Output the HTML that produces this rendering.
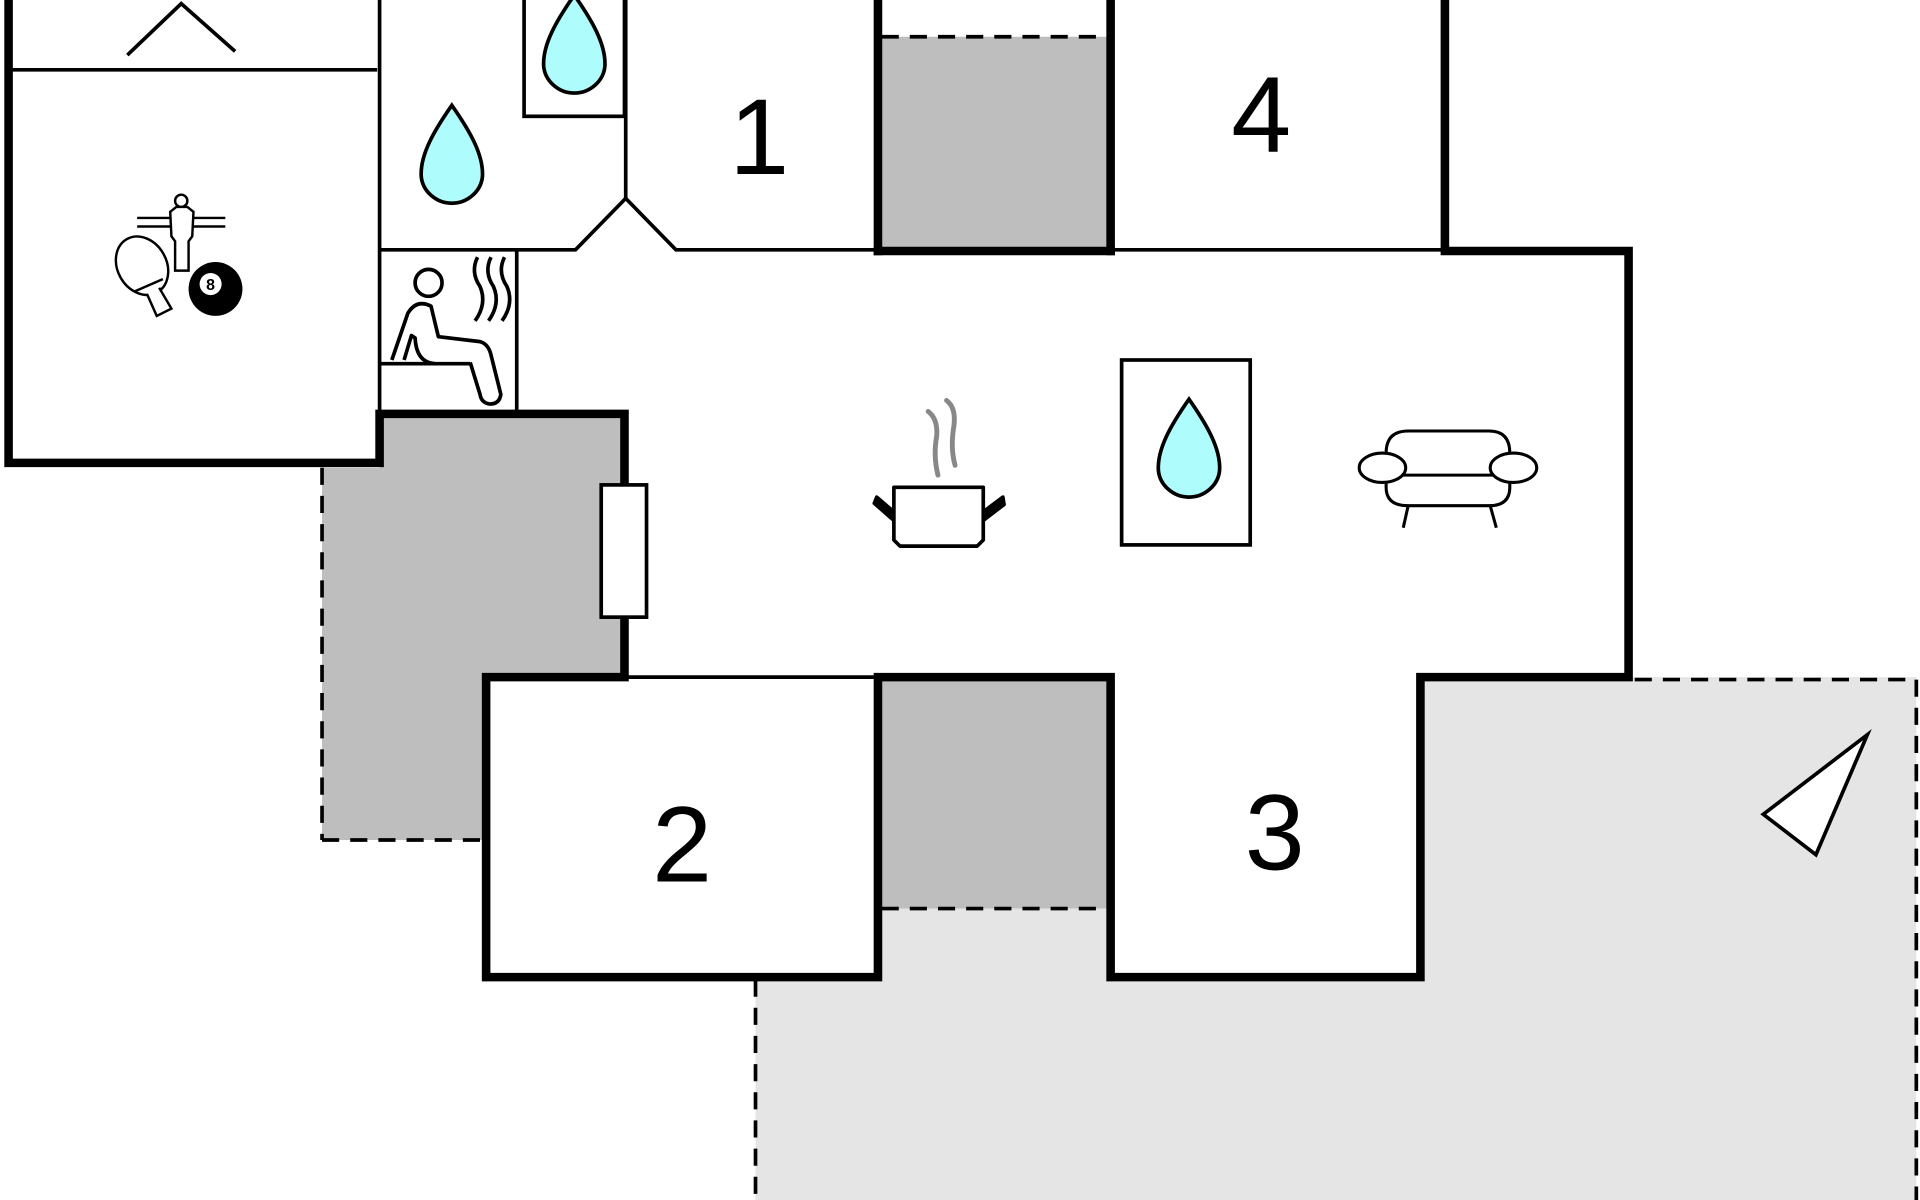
<!DOCTYPE html>
<html><head><meta charset="utf-8"><style>html,body{margin:0;padding:0;background:#fff;overflow:hidden}svg{display:block}</style></head>
<body>
<svg width="1920" height="1200" viewBox="0 0 1568 980" xmlns="http://www.w3.org/2000/svg">
<defs>
<path id="drop" d="M0,-44 C14,-24 26,-4 25,14 C24,26 13,36 0,36 C-13,36 -24,26 -25,14 C-26,-4 -14,-24 0,-44 Z" fill="#aefcfc" stroke="#000" stroke-width="3"/>
</defs>
<!-- light gray terrace -->
<polygon points="617,798 717,798 717,742 907,742 907,798 1160,798 1160,553 1565,553 1565,980 617,980" fill="#e5e5e5"/>
<!-- dark gray areas -->
<rect x="717" y="30" width="190" height="175" fill="#bebebe"/>
<rect x="717" y="553" width="190" height="189" fill="#bebebe"/>
<polygon points="263,382 310,382 310,338 510,338 510,553 397,553 397,686 263,686" fill="#bebebe"/>
<!-- dashed lines -->
<g stroke="#000" stroke-width="3" stroke-dasharray="14,9" fill="none">
<line x1="720" y1="30" x2="905" y2="30"/>
<line x1="720" y1="742" x2="905" y2="742"/>
<line x1="263" y1="382" x2="263" y2="686"/>
<line x1="263" y1="686" x2="397" y2="686"/>
<line x1="1335" y1="555" x2="1565" y2="555"/>
<line x1="1565" y1="555" x2="1565" y2="980"/>
<line x1="617" y1="800" x2="617" y2="980"/>
</g>
<!-- thin walls -->
<g stroke="#000" stroke-width="3" fill="none">
<line x1="7" y1="57" x2="308" y2="57"/>
<line x1="310" y1="0" x2="310" y2="338"/>
<polyline points="310,204 470,204 511,162 552,204 717,204"/>
<line x1="511" y1="0" x2="511" y2="162"/>
<line x1="907" y1="204" x2="1180" y2="204"/>
<line x1="510" y1="553" x2="717" y2="553"/>
<line x1="422" y1="204" x2="422" y2="335"/>
<line x1="310" y1="297" x2="384" y2="297"/>
<rect x="428" y="-5" width="82" height="100"/>
<polyline points="104,45 148,3 192,42"/>
<rect x="916" y="294" width="105" height="151"/>
</g>
<!-- thick walls -->
<g stroke="#000" stroke-width="7" fill="none" stroke-linecap="square">
<polyline points="7,0 7,378 310,378 310,338 510,338 510,553 397,553 397,798 717,798 717,553 907,553 907,798 1160,798 1160,553 1330,553 1330,205 1180,205 1180,0"/>
<line x1="717" y1="0" x2="717" y2="205"/>
<line x1="907" y1="0" x2="907" y2="205"/>
<line x1="717" y1="205" x2="907" y2="205"/>
</g>
<!-- window -->
<rect x="491" y="396" width="37" height="108" fill="#fff" stroke="#000" stroke-width="3"/>
<!-- drops -->
<use href="#drop" x="469" y="40"/>
<use href="#drop" x="369" y="130"/>
<use href="#drop" x="971" y="370"/>
<!-- numbers -->
<g font-family="Liberation Sans, sans-serif" font-size="88" text-anchor="middle" fill="#000">
<text x="620" y="142">1</text>
<text x="1030" y="124">4</text>
<text x="557" y="720">2</text>
<text x="1041" y="710">3</text>
</g>
<!-- sauna -->
<g stroke="#000" stroke-width="3" fill="none" stroke-linejoin="round">
<circle cx="350" cy="231" r="11"/>
<path d="M320,294 L333,256 Q340,244 352,250 L358,275 L392,279 Q399,281 401,290 L409,322 Q408,330 400,330 Q393,329 392,322 L384,296"/>
<path d="M330,294 L336,274 L339,276 Q340,296 355,297"/>
<path d="M390,210 Q384,222 392,234 Q398,248 388,262"/>
<path d="M401,210 Q395,222 403,234 Q409,248 399,262"/>
<path d="M412,210 Q406,222 414,234 Q420,248 410,262"/>
</g>
<!-- games -->
<g stroke="#000" stroke-width="2" fill="none">
<line x1="112" y1="178" x2="184" y2="178"/><line x1="112" y1="185" x2="184" y2="185"/>
<circle cx="148" cy="164" r="5" fill="#fff"/>
<path d="M144,169 L139,173 L140,193 L143,197 L143,221 L154,221 L154,197 L157,193 L158,173 L153,169 Z" fill="#fff"/>
<ellipse cx="116" cy="217" rx="20" ry="25" transform="rotate(-30 116 217)" fill="#fff"/>
<path d="M120,240 L128,258 L140,252 L130,235" fill="#fff"/>
<line x1="110" y1="238" x2="133" y2="228"/>
</g>
<circle cx="176" cy="236" r="22" fill="#000"/>
<circle cx="172" cy="232" r="9" fill="#fff"/>
<text x="172" y="237" font-family="Liberation Sans, sans-serif" font-size="13" font-weight="bold" text-anchor="middle">8</text>
<!-- pot -->
<g stroke="#000" stroke-width="3" fill="#fff" stroke-linejoin="round">
<path d="M730,398 L803,398 L803,441 L798,446 L735,446 L730,441 Z"/>
<path d="M730,425 L714,411 L716,406 L730,418" fill="#000"/>
<path d="M803,425 L820,412 L819,406 L803,418" fill="#000"/>
</g>
<g stroke="#888" stroke-width="4" fill="none" stroke-linecap="round">
<path d="M758,336 Q766,342 765,356 Q762,372 766,388"/>
<path d="M773,327 Q781,333 779,348 Q776,366 780,380"/>
</g>
<!-- sofa -->
<g stroke="#000" stroke-width="2.5" fill="#fff">
<path d="M1132,370 Q1132,352 1150,352 L1216,352 Q1233,352 1233,370 L1233,398 Q1233,413 1216,413 L1150,413 Q1132,413 1132,398 Z"/>
<line x1="1146" y1="388" x2="1219" y2="388"/>
<ellipse cx="1129" cy="382" rx="19" ry="12"/>
<ellipse cx="1236" cy="382" rx="19" ry="12"/>
<line x1="1150" y1="413" x2="1146" y2="431"/>
<line x1="1217" y1="413" x2="1222" y2="431"/>
</g>
<!-- north arrow -->
<polygon points="1440,665 1525,600 1483,698" fill="#fff" stroke="#000" stroke-width="3"/>
</svg>
</body></html>
